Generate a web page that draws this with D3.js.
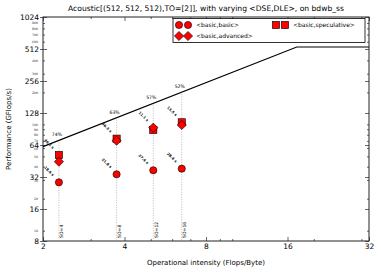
<!DOCTYPE html>
<html>
<head>
<meta charset="utf-8">
<script src="https://cdn.jsdelivr.net/npm/d3@7"></script>
<style>
  body { margin: 0; background: #fff; }
  svg { font-family: "DejaVu Sans", sans-serif; }
</style>
</head>
<body>
<script>
// space orders and operational intensity per run
const spaceOrders = ['SO=4', 'SO=8', 'SO=12', 'SO=16']
const intensity = [2.29, 3.74, 5.11, 6.51]
const perfBasic = [28.5, 33.9, 37.0, 38.3]
const perfAdvanced = [44.6, 70.2, 93.1, 98.7]
const perfSpeculative = [51.5, 73.4, 88.6, 104.6]
const percentLabels = ['74%', '63%', '57%', '52%']
const timeBest = ['46.1 s', '36.3 s', '11.1 s', '13.5 s']
const timeBasic = ['18.6 s', '21.8 s', '27.4 s', '28.4 s']

const peakPerf = 535
const bandwidth = 30.9

const xMajor = [2, 4, 8, 16, 32]
const xMinor = [3, 5, 6, 7, 9, 10, 20, 30]
const yMajor = [8, 16, 32, 64, 128, 256, 512, 1024]
const yMinor = [10, 20, 30, 40, 50, 60, 70, 80, 90, 100, 200, 300, 400, 600, 700, 800, 900]

const W = 381, H = 273
const m = { left: 43, right: 369, top: 17, bottom: 241 }

const svg = d3.select('body').append('svg')
    .attr('width', W)
    .attr('height', H)

const x = d3.scaleLog().base(2).domain([2, 32]).range([m.left, m.right])
const y = d3.scaleLog().base(2).domain([8, 1024]).range([m.bottom, m.top])

// title
svg.append('text')
    .attr('x', (m.left + m.right) / 2)
    .attr('y', 11)
    .attr('text-anchor', 'middle')
    .attr('font-size', 7.6)
    .text('Acoustic[(512, 512, 512),TO=[2]], with varying <DSE,DLE>, on bdwb_ss')

// axes (ticks pointing inside)
function styleAxis(g) {
    g.select('.domain').remove()
    g.selectAll('line').attr('stroke', '#222').attr('stroke-width', 0.7)
    g.selectAll('text').attr('font-family', '"DejaVu Sans", sans-serif').attr('fill', '#000')
}

svg.append('g')
    .attr('transform', `translate(0,${m.bottom})`)
    .call(d3.axisBottom(x).tickValues(xMajor).tickFormat(d3.format('d')).tickSize(-4).tickPadding(3))
    .call(styleAxis)
    .selectAll('text').attr('font-size', 7.5)

svg.append('g')
    .attr('transform', `translate(0,${m.bottom})`)
    .call(d3.axisBottom(x).tickValues(xMinor).tickFormat('').tickSize(-2))
    .call(styleAxis)

svg.append('g')
    .attr('transform', `translate(0,${m.top})`)
    .call(d3.axisTop(x).tickValues(xMajor).tickFormat('').tickSize(-4))
    .call(styleAxis)

svg.append('g')
    .attr('transform', `translate(0,${m.top})`)
    .call(d3.axisTop(x).tickValues(xMinor).tickFormat('').tickSize(-2))
    .call(styleAxis)

svg.append('g')
    .attr('transform', `translate(${m.left},0)`)
    .call(d3.axisLeft(y).tickValues(yMajor).tickFormat(d3.format('d')).tickSize(3).tickPadding(1))
    .call(styleAxis)
    .selectAll('text').attr('font-size', 7.5)

svg.append('g')
    .attr('transform', `translate(${m.left},0)`)
    .call(d3.axisLeft(y).tickValues(yMajor).tickFormat('').tickSize(-4))
    .call(styleAxis)

svg.append('g')
    .attr('transform', `translate(${m.left},0)`)
    .call(d3.axisLeft(y).tickValues(yMinor).tickFormat(d3.format('d')).tickSize(-2).tickPadding(5))
    .call(styleAxis)
    .selectAll('text').attr('font-size', 3.2).attr('fill', '#333')

svg.append('g')
    .attr('transform', `translate(${m.right},0)`)
    .call(d3.axisRight(y).tickValues(yMajor).tickFormat('').tickSize(-4))
    .call(styleAxis)

svg.append('g')
    .attr('transform', `translate(${m.right},0)`)
    .call(d3.axisRight(y).tickValues(yMinor).tickFormat('').tickSize(-2))
    .call(styleAxis)

// frame
svg.append('rect')
    .attr('x', m.left).attr('y', m.top)
    .attr('width', m.right - m.left).attr('height', m.bottom - m.top)
    .attr('fill', 'none').attr('stroke', '#222').attr('stroke-width', 1)

// axis labels
svg.append('text')
    .attr('x', (m.left + m.right) / 2)
    .attr('y', 265)
    .attr('text-anchor', 'middle')
    .attr('font-size', 7)
    .text('Operational intensity (Flops/Byte)')

svg.append('text')
    .attr('transform', `translate(11,${(m.top + m.bottom) / 2}) rotate(-90)`)
    .attr('text-anchor', 'middle')
    .attr('font-size', 7)
    .text('Performance (GFlops/s)')

// roofline
const knee = peakPerf / bandwidth
const roof = d => Math.min(peakPerf, bandwidth * d)
svg.append('path')
    .datum([2, knee, 32])
    .attr('fill', 'none')
    .attr('stroke', '#000')
    .attr('stroke-width', 1.1)
    .attr('d', d3.line().x(d => x(d)).y(d => y(roof(d))))

// dotted guides, percent and SO labels
intensity.forEach((oi, i) => {
    const cx = x(oi)
    svg.append('line')
        .attr('x1', cx).attr('x2', cx)
        .attr('y1', y(roof(oi)) + 2).attr('y2', m.bottom)
        .attr('stroke', '#999').attr('stroke-width', 0.7)
        .attr('stroke-dasharray', '1,1.5')
    svg.append('text')
        .attr('x', cx - 2).attr('y', y(roof(oi)) - 4)
        .attr('text-anchor', 'middle')
        .attr('font-size', 4.6)
        .text(percentLabels[i])
    svg.append('text')
        .attr('transform', `translate(${cx + 4.5},${m.bottom - 3}) rotate(-90)`)
        .attr('font-size', 4.6)
        .text(spaceOrders[i])
})

// markers
const circle = (g, cx, cy) => g.append('circle').attr('cx', cx).attr('cy', cy).attr('r', 3.6)
const square = (g, cx, cy) => g.append('rect').attr('x', cx - 3.6).attr('y', cy - 3.6).attr('width', 7.2).attr('height', 7.2)
const diamond = (g, cx, cy) => g.append('path').attr('d', `M${cx},${cy - 4.6}L${cx + 4.6},${cy}L${cx},${cy + 4.6}L${cx - 4.6},${cy}Z`)

const marks = svg.append('g').attr('fill', '#ff0000').attr('stroke', '#000').attr('stroke-width', 0.6)
intensity.forEach((oi, i) => {
    const cx = x(oi)
    square(marks, cx, y(perfSpeculative[i]))
    diamond(marks, cx, y(perfAdvanced[i]))
    circle(marks, cx, y(perfBasic[i]))
})

// execution time labels
intensity.forEach((oi, i) => {
    const cx = x(oi)
    const best = Math.max(perfSpeculative[i], perfAdvanced[i])
    const pts = [[y(best), timeBest[i]], [y(perfBasic[i]), timeBasic[i]]]
    pts.forEach(([cy, t]) => {
        svg.append('text')
            .attr('transform', `translate(${cx - 10},${cy - 11}) rotate(45)`)
            .attr('text-anchor', 'middle')
            .attr('dominant-baseline', 'middle')
            .attr('font-size', 3.6)
            .attr('font-weight', 'bold')
            .text(t)
    })
})

// legend
const lg = svg.append('g')
lg.append('rect')
    .attr('x', 173).attr('y', 18.5)
    .attr('width', 192).attr('height', 24)
    .attr('fill', '#fff').attr('stroke', '#000').attr('stroke-width', 0.8)

const lm = lg.append('g').attr('fill', '#ff0000').attr('stroke', '#000').attr('stroke-width', 0.6)
circle(lm, 179, 25); circle(lm, 188, 25)
diamond(lm, 179, 36); diamond(lm, 188, 36)
square(lm, 276, 25); square(lm, 285, 25)

const legendText = [['<basic,basic>', 196, 25], ['<basic,advanced>', 196, 36], ['<basic,speculative>', 293, 25]]
legendText.forEach(([t, lx, ly]) => {
    lg.append('text')
        .attr('x', lx).attr('y', ly)
        .attr('dominant-baseline', 'middle')
        .attr('font-size', 6)
        .text(t)
})
</script>
</body>
</html>
